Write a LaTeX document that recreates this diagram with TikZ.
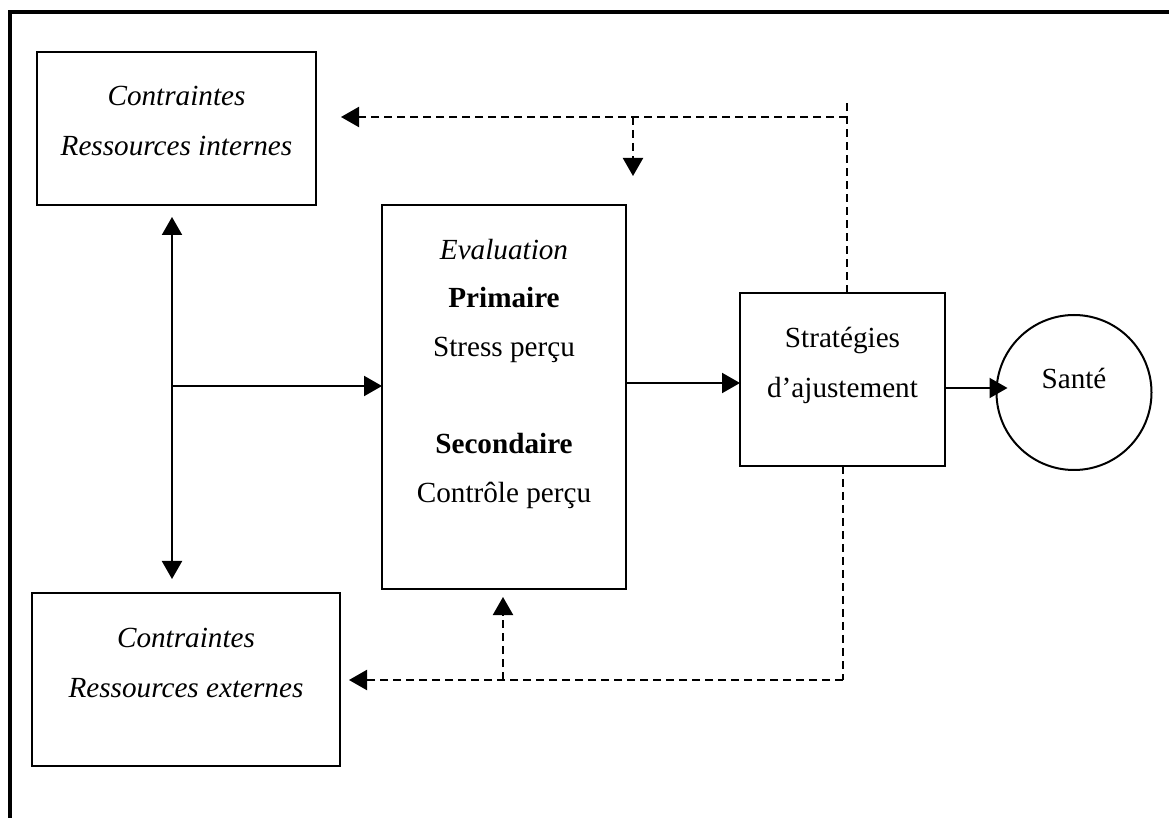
\documentclass[tikz,border=0pt]{standalone}
\usepackage{fontspec}
\setmainfont{Liberation Serif}
\usepackage{xcolor}
\usepackage{tikz}
\usetikzlibrary{positioning,arrows.meta}

\begin{document}
\begin{tikzpicture}[x = 0.5pt, y = -0.5pt, node distance = 0.3em]
            \tikzstyle{box} = [rectangle, draw=black, line width=1pt, inner sep=0pt, outer sep=0pt];
            \tikzstyle{txt} = [inner sep=0pt, align=center, font=\fontsize{14.6}{25}\selectfont];
            \tikzstyle{flow} = [line width=1pt, -{Triangle[length=9pt, width=10pt]}];
            \tikzstyle{feedback} = [flow, dash pattern=on 4pt off 2.5pt];
            \tikzstyle{fbline} = [line width=1pt, dash pattern=on 4pt off 2.5pt];
            \tikzstyle{outerframe} = [line width=1.6pt];

            \useasboundingbox (0,0) rectangle (1169,818);
            \draw [outerframe] (1169,12) -- (10,12) -- (10,818);

            \node [box, minimum width=139.5pt, minimum height=76.5pt] (intern) at (176.5,128.5) {};
            \node [box, minimum width=154pt, minimum height=86.5pt] (extern) at (186,679.5) {};
            \node [box, minimum width=122pt, minimum height=192pt] (eval) at (504,397) {};
            \node [box, minimum width=102.5pt, minimum height=86.5pt] (strat) at (842.5,379.5) {};
            \node [box, circle, minimum size=77.5pt] (sante) at (1074,392.5) {};

            \node [txt, below = 16.7pt of intern.north] (internT) {\textit{Contraintes}\\\textit{Ressources internes}};
            \node [txt, below = 17.2pt of extern.north] (externT) {\textit{Contraintes}\\\textit{Ressources externes}};
            \node [txt, below = 16.7pt of eval.north, font=\fontsize{14.6}{24.3}\selectfont] (evalT) {\textit{Evaluation}\\\textbf{Primaire}\\Stress perçu\\[24.3pt]\textbf{Secondaire}\\Contrôle perçu};
            \node [txt, below = 16.9pt of strat.north] (stratT) {Stratégies\\d’ajustement};
            \node [txt, below = 26.5pt of sante.north] (santeT) {Santé};

            \coordinate (hub) at (172,386);
            \coordinate (evalOut) at (626,383);
            \coordinate (stratOut) at (945,388);
            \coordinate (topR) at (847,117);
            \coordinate (topEnd) at (847,103);
            \coordinate (topDrop) at (633,117);
            \coordinate (dropTip) at (633,176);
            \coordinate (botR) at (843,680);
            \coordinate (botRise) at (503,680);

            \draw [flow, shorten >=6pt] (hub) -- (hub |- intern.south);
            \draw [flow, shorten >=7pt] (hub) -- (hub |- extern.north);
            \draw [flow] (hub) -- (hub -| eval.west);
            \draw [flow] (evalOut) -- (evalOut -| strat.west);
            \draw [flow, shorten >=-5.5pt] (stratOut) -- (stratOut -| sante.west);

            \draw [fbline] (strat.north -| topR) -- (topEnd);
            \draw [feedback, shorten >=12.5pt] (topR) -- (topR -| intern.east);
            \draw [feedback] (topDrop) -- (dropTip);
            \draw [fbline] (strat.south -| botR) -- (botR);
            \draw [feedback, shorten >=4.5pt] (botR) -- (botR -| extern.east);
            \draw [feedback, shorten >=4pt] (botRise) -- (botRise |- eval.south);
        \end{tikzpicture}
\end{document}
